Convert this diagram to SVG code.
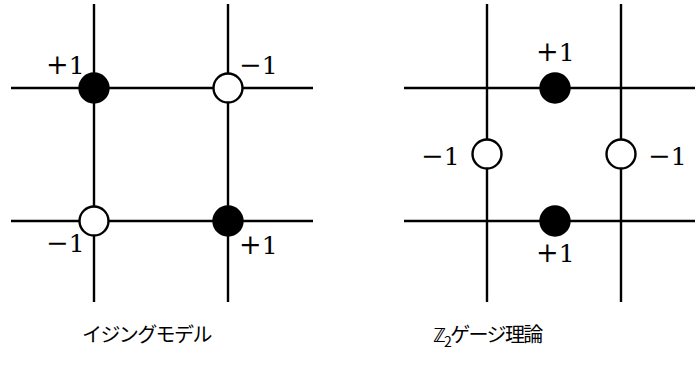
<svg xmlns="http://www.w3.org/2000/svg" width="696" height="371" viewBox="0 0 696 371">
<style>
.ln{stroke:#000;stroke-width:2.4;fill:none}
.on{fill:#000;stroke:#000;stroke-width:2.4}
.off{fill:#fff;stroke:#000;stroke-width:2.4}
.lb{font-family:"DejaVu Serif","Liberation Serif",serif;font-size:25px;fill:#000}
.sg{font-size:27px}
.cap{font-family:"Noto Sans CJK JP","Noto Sans",sans-serif;font-size:20px;letter-spacing:-1.6px;fill:#000}
</style>
<rect width="696" height="371" fill="#fff"/>
<g id="connectors">
<line class="ln" x1="94" y1="4" x2="94" y2="302"/>
<line class="ln" x1="228" y1="4" x2="228" y2="302"/>
<line class="ln" x1="11" y1="88" x2="313" y2="88"/>
<line class="ln" x1="11" y1="221" x2="313" y2="221"/>
<line class="ln" x1="487" y1="4" x2="487" y2="302"/>
<line class="ln" x1="621" y1="4" x2="621" y2="302"/>
<line class="ln" x1="404" y1="88" x2="695" y2="88"/>
<line class="ln" x1="404" y1="221" x2="695" y2="221"/>
</g>
<g id="ising-tl"><circle class="on" cx="94" cy="88" r="14.5"/><text class="lb" x="46" y="74"><tspan class="sg">+</tspan>1</text></g>
<g id="ising-tr"><circle class="off" cx="228" cy="88" r="14.5"/><text class="lb" x="239" y="74"><tspan class="sg">−</tspan>1</text></g>
<g id="ising-bl"><circle class="off" cx="94" cy="221" r="14.5"/><text class="lb" x="46" y="252"><tspan class="sg">−</tspan>1</text></g>
<g id="ising-br"><circle class="on" cx="228" cy="221" r="14.5"/><text class="lb" x="239" y="254"><tspan class="sg">+</tspan>1</text></g>
<g id="gauge-top"><circle class="on" cx="555" cy="88" r="14.5"/><text class="lb" x="536" y="61"><tspan class="sg">+</tspan>1</text></g>
<g id="gauge-bottom"><circle class="on" cx="555" cy="221" r="14.5"/><text class="lb" x="536" y="262"><tspan class="sg">+</tspan>1</text></g>
<g id="gauge-left"><circle class="off" cx="487" cy="154" r="14.5"/><text class="lb" x="421" y="165"><tspan class="sg">−</tspan>1</text></g>
<g id="gauge-right"><circle class="off" cx="621" cy="154" r="14.5"/><text class="lb" x="648" y="165"><tspan class="sg">−</tspan>1</text></g>
<g id="caption-ising"><text class="cap" x="82" y="342">イジングモデル</text></g>
<g id="caption-gauge"><text class="cap" x="433" y="342">ℤ<tspan font-size="14" dy="5">2</tspan><tspan dy="-5">ゲージ理論</tspan></text></g>
</svg>
